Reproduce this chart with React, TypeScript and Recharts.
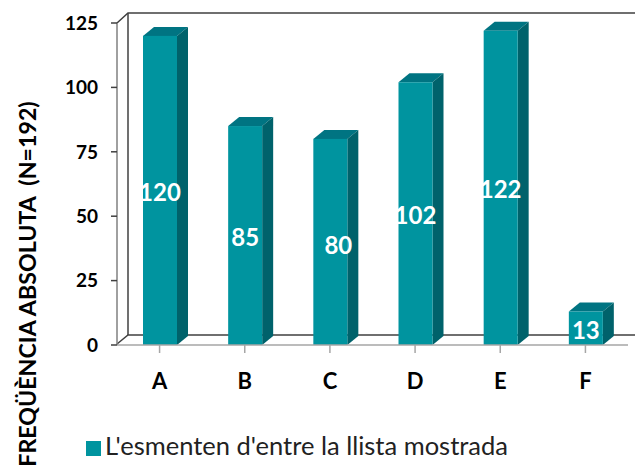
import { Bar, BarChart, LabelList, Legend, XAxis, YAxis } from "recharts";

const categories = ["A", "B", "C", "D", "E", "F"];
const values = [120, 85, 80, 102, 122, 13];
const yTicks = [0, 25, 50, 75, 100, 125];
const seriesName = "L'esmenten d'entre la llista mostrada";
const yTitle = "FREQÜÈNCIA ABSOLUTA\u00A0\u00A0(N=192)";

const chartData = categories.map((name, i) => ({ name, value: values[i] }));

const FONT = "Lato, sans-serif";
const DEPTH_X = 11;
const DEPTH_Y = 9;
const PLOT = { left: 117, top: 23, right: 628, bottom: 344 };

const Bar3D = (props: any) => {
  const { x, y, width, height } = props;
  const r = x + width;
  const b = y + height;
  return (
    <g>
      <path
        d={`M${x},${y} L${x + DEPTH_X},${y - DEPTH_Y} H${r + DEPTH_X} L${r},${y} Z`}
        fill="#007482"
      />
      <path
        d={`M${r},${y} L${r + DEPTH_X},${y - DEPTH_Y} V${b - DEPTH_Y} L${r},${b} Z`}
        fill="#00626b"
      />
      <rect x={x} y={y} width={width} height={height} fill="#00949f" />
    </g>
  );
};

// the label of C sits off-centre in the original
const BarValue = (props: any) => {
  const { x, y, width, height, value, index } = props;
  const nudge = index === 2 ? 8 : 0;
  return (
    <text
      x={x + width / 2 + nudge}
      y={y + height / 2 + 1 + (index === 2 ? 2 : 0)}
      textAnchor="middle"
      dominantBaseline="central"
      fill="#fff"
      fontFamily={FONT}
      fontWeight={700}
      fontSize={24}
    >
      {value}
    </text>
  );
};

export default function App() {
  const { left, top, right, bottom } = PLOT;
  const wx = left + DEPTH_X;
  return (
    <div style={{ position: "absolute", left: 0, top: 0, width: 635, height: 468, background: "#fff" }}>
      <BarChart
        width={635}
        height={468}
        data={chartData}
        barSize={34}
        margin={{ top, left: 0, right: 635 - right, bottom: 468 - bottom - 40 - 31 }}
      >
        {/* back wall of the 3D box */}
        <g fill="none" stroke="#404040" strokeWidth={1.5}>
          <path d={`M${left},${top} L${wx},${top - DEPTH_Y - 1} H635`} />
          <path d={`M${wx},${top - DEPTH_Y - 1} V${bottom - DEPTH_Y}`} />
          <path d={`M${left},${bottom} L${wx},${bottom - DEPTH_Y} H635`} />
        </g>
        <XAxis
          dataKey="name"
          height={40}
          axisLine={{ stroke: "#a6a6a6", strokeWidth: 1.5 }}
          tickLine={{ stroke: "#a6a6a6", strokeWidth: 1.5 }}
          tickSize={8}
          tickMargin={20}
          tick={{ fill: "#000", fontFamily: FONT, fontWeight: 700, fontSize: 22 }}
        />
        <YAxis
          width={left}
          domain={[0, 125]}
          ticks={yTicks}
          interval={0}
          axisLine={{ stroke: "#808080", strokeWidth: 1.5 }}
          tickLine={{ stroke: "#404040", strokeWidth: 1.5 }}
          tickSize={6}
          tickMargin={13}
          tick={{ fill: "#000", fontFamily: FONT, fontWeight: 700, fontSize: 19 }}
          label={{
            value: yTitle,
            angle: -90,
            position: "center",
            dx: -31,
            dy: 100,
            style: { fill: "#000", fontFamily: FONT, fontWeight: 700, fontSize: 23.2 },
          }}
        />
        <Legend
          verticalAlign="bottom"
          align="left"
          iconType="square"
          iconSize={15}
          wrapperStyle={{ left: 86, bottom: 8, width: 520, fontFamily: FONT, fontSize: 25.5 }}
          formatter={(v) => <span style={{ color: "#222" }}>{v}</span>}
        />
        <Bar
          dataKey="value"
          name={seriesName}
          fill="#00949f"
          shape={Bar3D}
          isAnimationActive={false}
        >
          <LabelList dataKey="value" content={BarValue} />
        </Bar>
      </BarChart>
    </div>
  );
}
